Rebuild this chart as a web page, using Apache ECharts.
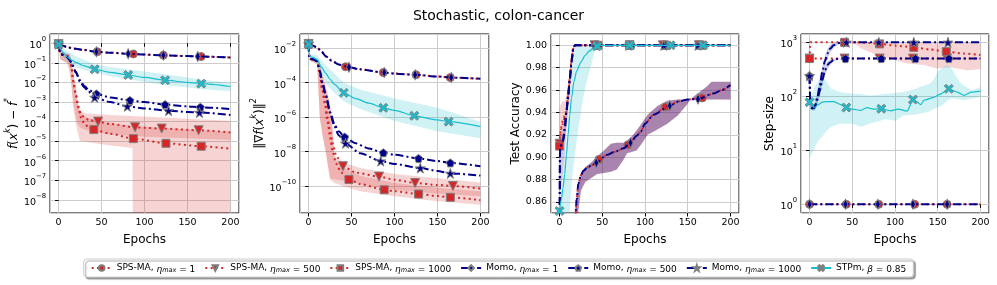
<!DOCTYPE html>
<html><head><meta charset="utf-8">
<script src="https://cdn.jsdelivr.net/npm/echarts@6/dist/echarts.min.js"></script>
<style>html,body{margin:0;padding:0;background:#fff}#c{width:997px;height:285px}</style>
</head><body><div id="c"></div>
<script>
// ---------------- DATA ----------------
const seriesNames = ['SPS-MA, ηmax = 1','SPS-MA, ηmax = 500','SPS-MA, ηmax = 1000','Momo, ηmax = 1','Momo, ηmax = 500','Momo, ηmax = 1000','STPm, β = 0.85'];
const xTicks = [0,50,100,150,200];

// Plot 1: f(x^k) - f*
const p1_sps1_x = [0,5,10,15,20,30,45,60,87,100,122,150,166,200];
const p1_sps1_y = [0.9,0.75,0.65,0.58,0.52,0.45,0.37,0.33,0.285,0.265,0.245,0.222,0.21,0.188];
const p1_sps1_mk = [0,45,87,122,166];
const p1_sps500_x = [0,2,5,10,13,15,17,20,23,26,30,35,46,60,89,120,163,200];
const p1_sps500_y = [0.9,0.3,0.27,0.23,0.17,0.06,0.012,0.0025,0.0006,0.00025,0.00016,0.00012,0.0001,0.000075,0.000051,0.000044,0.000036,0.000028];
const p1_sps500_mk = [0,46,89,120,163];
const p1_sps1000_x = [0,2,5,10,13,15,17,20,23,26,30,35,41,60,87,125,166,200];
const p1_sps1000_y = [0.9,0.3,0.27,0.23,0.17,0.06,0.012,0.0025,0.0005,0.00016,0.00008,0.00005,0.000039,0.000024,0.0000135,0.0000078,0.0000055,0.0000041];
const p1_sps1000_mk = [0,41,87,125,166];
const p1_momo1_x = [0,5,10,15,20,30,44,60,81,100,122,150,162,200];
const p1_momo1_y = [0.9,0.74,0.64,0.57,0.52,0.45,0.37,0.33,0.29,0.265,0.245,0.222,0.213,0.188];
const p1_momo1_mk = [0,44,81,122,162];
const p1_momo500_x = [0,1,3,6,10,13,16,20,25,30,35,44,60,83,100,124,150,165,200];
const p1_momo500_y = [0.9,0.4,0.27,0.25,0.2,0.14,0.08,0.035,0.013,0.0065,0.0042,0.0026,0.0017,0.0012,0.001,0.00074,0.0006,0.00054,0.00044];
const p1_momo500_mk = [0,44,83,124,165];
const p1_momo1000_x = [0,1,3,6,10,13,16,20,25,30,35,42,60,80,100,128,150,164,200];
const p1_momo1000_y = [0.9,0.4,0.27,0.25,0.2,0.14,0.075,0.032,0.011,0.0055,0.0033,0.0017,0.001,0.0006,0.00047,0.00036,0.00031,0.00029,0.00022];
const p1_momo1000_mk = [0,42,80,128,164];
const p1_stp_x = [0,2,5,10,15,20,30,42,60,81,100,124,150,166,200];
const p1_stp_y = [0.9,0.55,0.35,0.2,0.14,0.105,0.07,0.047,0.033,0.024,0.018,0.013,0.0102,0.0087,0.0062];
const p1_stp_mk = [0,42,81,124,166];
const p1_stpBand_x = [0,2,5,10,20,30,42,60,81,100,124,150,166,200];
const p1_stpBand_hi = [0.95,0.8,0.6,0.42,0.22,0.14,0.085,0.062,0.047,0.036,0.026,0.018,0.014,0.0095];
const p1_stpBand_lo = [0.85,0.35,0.2,0.11,0.06,0.042,0.032,0.021,0.0145,0.0105,0.0075,0.0055,0.0046,0.0035];
const p1_s500Band_x = [0,2,5,10,13,15,17,20,22,25,30,40,60,100,150,200];
const p1_s500Band_hi = [0.95,0.5,0.35,0.3,0.28,0.12,0.03,0.0055,0.001,0.00035,0.00026,0.00025,0.00022,0.00018,0.00014,0.00011];
const p1_s500Band_lo = [0.85,0.15,0.13,0.1,0.05,0.01,0.0012,0.0002,0.00008,0.00005,0.00004,0.00003,0.000022,0.000017,0.000014,0.0000115];
const p1_s1000Band_x = [0,2,5,10,13,15,17,20,22,25,30,40,60,86,86.5,100,150,200];
const p1_s1000Band_hi = [0.95,0.5,0.35,0.3,0.28,0.12,0.03,0.005,0.001,0.0003,0.00018,0.00013,0.00008,0.00006,0.00006,0.000055,0.00004,0.000031];
const p1_s1000Band_lo = [0.85,0.15,0.13,0.1,0.03,0.005,0.0005,0.00008,0.00003,0.00001,0.0000095,0.000008,0.000006,0.0000045,1e-12,1e-12,1e-12,1e-12];

// Plot 2: ||grad f(x^k)||^2
const p2_sps1_x = [0,5,10,15,20,27,35,43,60,87,100,125,150,165,200];
const p2_sps1_y = [0.018,0.014,0.011,0.0065,0.0035,0.0019,0.00115,0.00085,0.0006,0.00039,0.00034,0.00029,0.00023,0.0002,0.00017];
const p2_sps1_mk = [0,43,87,125,165];
const p2_sps500_x = [0,1,5,10,13,16,19,22,25,28,32,40,55,82,100,124,150,168,200];
const p2_sps500_y = [0.018,2.5e-3,2.3e-3,1.8e-3,3e-4,4e-5,8e-6,1e-6,1.5e-7,3e-8,6e-9,1.4e-9,6e-10,3.5e-10,2.3e-10,1.5e-10,1.15e-10,1e-10,7e-11];
const p2_sps500_mk = [0,40,82,124,168];
const p2_sps1000_x = [0,1,5,10,13,16,19,22,25,28,32,38,47,60,88,100,128,150,165,200];
const p2_sps1000_y = [0.018,2.5e-3,2.3e-3,1.8e-3,3e-4,4e-5,6e-6,6e-7,7e-8,1e-8,2e-9,6e-10,2.4e-10,1.3e-10,6e-11,5e-11,3.4e-11,2.6e-11,2.2e-11,1.5e-11];
const p2_sps1000_mk = [0,47,88,128,165];
const p2_momo1_x = [0,5,10,15,20,27,35,47,60,88,100,124,150,166,200];
const p2_momo1_y = [0.018,0.014,0.011,0.0065,0.0035,0.0019,0.00115,0.0008,0.0006,0.00039,0.00034,0.00029,0.00023,0.0002,0.00017];
const p2_momo1_mk = [0,47,88,124,166];
const p2_momo500_x = [0,1,5,10,13,16,20,25,30,35,42,55,70,87,100,128,150,165,200];
const p2_momo500_y = [0.018,2.5e-3,2.3e-3,1.8e-3,5e-4,1e-4,2e-5,2e-6,4e-7,1.5e-7,7e-8,3e-8,1.5e-8,8.5e-9,6.5e-9,4e-9,2.8e-9,2.2e-9,1.4e-9];
const p2_momo500_mk = [0,42,87,128,165];
const p2_momo1000_x = [0,1,5,10,13,16,20,25,30,35,43,60,84,100,130,150,165,200];
const p2_momo1000_y = [0.018,2.5e-3,2.3e-3,1.8e-3,5e-4,1e-4,1.8e-5,1.8e-6,3e-7,9e-8,3e-8,8e-9,2.8e-9,1.9e-9,1.1e-9,7.5e-10,5.4e-10,4e-10];
const p2_momo1000_mk = [0,43,84,130,165];
const p2_stp_x = [0,1,5,10,15,20,25,30,41,55,70,87,100,123,150,163,200];
const p2_stp_y = [0.018,0.0035,0.003,0.0022,0.0008,0.00035,0.00016,0.00008,0.000026,0.000012,0.0000065,0.0000035,0.0000025,0.0000012,0.0000007,0.00000055,0.00000028];
const p2_stp_mk = [0,41,87,123,163];
const p2_stpBand_x = [0,1,10,15,20,30,41,60,100,150,200];
const p2_stpBand_hi = [0.019,0.005,0.004,0.002,0.001,0.00035,0.0001,0.00004,0.000012,0.0000035,0.00000055];
const p2_stpBand_lo = [0.017,0.002,0.0015,0.0003,0.00009,0.000025,0.000008,0.000003,0.0000006,0.00000015,0.00000006];
const p2_s500Band_x = [0,1,10,13,16,20,25,28,30,40,60,100,150,200];
const p2_s500Band_hi = [0.019,3e-3,2.5e-3,1.5e-3,3e-4,6e-5,6e-6,2e-7,6e-9,2.5e-9,1.1e-9,5e-10,2.8e-10,1.6e-10];
const p2_s500Band_lo = [0.017,2e-3,1.2e-3,1e-6,1e-7,1e-8,3e-10,2.5e-10,2.5e-10,2e-10,1.3e-10,6e-11,3.5e-11,2.5e-11];
const p2_s1000Band_x = [0,1,10,13,16,20,25,28,30,40,60,100,150,200];
const p2_s1000Band_hi = [0.019,3e-3,2.5e-3,1.5e-3,3e-4,5e-5,4e-6,1.5e-7,4e-9,1.2e-9,4e-10,1.5e-10,8e-11,5e-11];
const p2_s1000Band_lo = [0.017,2e-3,1.2e-3,1e-6,1e-7,8e-9,2.2e-10,1.8e-10,1.5e-10,1e-10,5e-11,2.5e-11,1.3e-11,8e-12];

// Plot 3: Test accuracy
const p3_sps1_x = [0,10,18,20,22,25,28,33,38,46,55,65,75,80,90,95,100,110,124,140,150,167,180,190,200];
const p3_sps1_y = [0.6,0.72,0.84,0.862,0.876,0.884,0.888,0.891,0.893,0.898,0.902,0.905,0.908,0.911,0.919,0.9227,0.93,0.938,0.945,0.95,0.9516,0.953,0.957,0.96,0.9645];
const p3_sps1_mk = [0,46,80,124,167];
const p3_momo1_x = [0,10,18,20,22,25,28,33,38,43,55,65,75,83,90,95,100,110,129,140,150,162,180,190,200];
const p3_momo1_y = [0.6,0.72,0.84,0.862,0.876,0.884,0.888,0.891,0.893,0.895,0.902,0.905,0.908,0.913,0.919,0.9227,0.93,0.938,0.946,0.95,0.9516,0.952,0.957,0.96,0.9645];
const p3_momo1_mk = [0,43,83,129,162];
const p3_slowBand_x = [15,20,25,30,38,44,52,60,67,75,79,85,90,95,103,115,126,138,149,153,158,165,172,178,200];
const p3_slowBand_hi = [0.82,0.862,0.885,0.891,0.896,0.901,0.906,0.912,0.913,0.913,0.915,0.919,0.924,0.929,0.938,0.946,0.9505,0.9516,0.9516,0.9516,0.955,0.959,0.963,0.9675,0.9675];
const p3_slowBand_lo = [0.78,0.84,0.87,0.878,0.882,0.885,0.886,0.887,0.889,0.898,0.9035,0.905,0.906,0.911,0.92,0.925,0.93,0.937,0.947,0.9516,0.9516,0.9516,0.9516,0.9516,0.9516];
const p3_sps500_x = [0,1,2,4,6,8,10,12,14,16,18,20,30,41,82,121,163,200];
const p3_sps500_y = [0.912,0.922,0.927,0.933,0.937,0.941,0.955,0.971,0.988,0.997,1,1,1,1,1,1,1,1];
const p3_sps500_mk = [0,41,82,121,163];
const p3_sps1000_x = [0,1,2,4,6,8,10,12,14,16,18,20,30,45,82,125,167,200];
const p3_sps1000_y = [0.91,0.92,0.925,0.93,0.935,0.94,0.952,0.968,0.986,0.996,1,1,1,1,1,1,1,1];
const p3_sps1000_mk = [0,45,82,125,167];
const p3_momo500_x = [0,0.5,1,2,4,6,8,10,12,14,16,18,20,30,42,84,124,163,200];
const p3_momo500_y = [0.8,0.905,0.909,0.911,0.914,0.925,0.94,0.955,0.97,0.985,0.997,1,1,1,1,1,1,1,1];
const p3_momo500_mk = [0,42,84,124,163];
const p3_momo1000_x = [0,0.5,1,2,4,6,8,10,12,14,16,18,20,30,43,81,122,162,200];
const p3_momo1000_y = [0.8,0.905,0.909,0.911,0.914,0.925,0.94,0.955,0.97,0.985,0.997,1,1,1,1,1,1,1,1];
const p3_momo1000_mk = [0,43,81,122,162];
const p3_stp_x = [0,2,4,6,8,10,12,14,17,20,25,30,35,40,44,50,82,130,168,200];
const p3_stp_y = [0.852,0.862,0.872,0.885,0.902,0.92,0.938,0.953,0.968,0.977,0.985,0.991,0.995,0.998,0.9993,1,1,1,1,1];
const p3_stp_mk = [0,44,82,130,168];
const p3_stpBand_x = [0,3,6,8,10,12,14,16,20,24,28,32,36,41,45,200];
const p3_stpBand_hi = [0.861,0.878,0.897,0.915,0.935,0.965,0.985,0.995,1,1,1,1,1,1,1,1];
const p3_stpBand_lo = [0.78,0.8,0.82,0.83,0.84,0.85,0.876,0.89,0.915,0.935,0.955,0.968,0.98,0.994,1,1];
const p3_spsFastBand_x = [0,2,4,6,8,10,12,14,16,18,200];
const p3_spsFastBand_hi = [0.945,0.948,0.95,0.95,0.955,0.965,0.98,0.993,0.999,1,1];
const p3_spsFastBand_lo = [0.9,0.905,0.91,0.915,0.925,0.94,0.96,0.98,0.995,1,1];
const p3_momoFastBand_x = [0,1,2,4,6,8,10,12,14,16,18,200];
const p3_momoFastBand_hi = [0.915,0.918,0.92,0.925,0.932,0.945,0.96,0.975,0.99,0.998,1,1];
const p3_momoFastBand_lo = [0.86,0.87,0.875,0.885,0.9,0.925,0.945,0.962,0.98,0.995,1,1];

// Plot 4: Step-size
const p4_sps1_x = [0,43,81,123,161,200];
const p4_sps1_y = [1,1,1,1,1,1];
const p4_sps1_mk = [0,43,81,123,161];
const p4_sps500_x = [0,41,82,121,161,200];
const p4_sps500_y = [500,500,500,500,500,500];
const p4_sps500_mk = [0,41,82,121,161];
const p4_sps1000_x = [0,1,5,20,41,55,70,82,100,122,140,160,180,200];
const p4_sps1000_y = [500,1000,1000,1000,1000,1000,970,935,870,808,740,671,620,582];
const p4_sps1000_mk = [0,41,82,122,160];
const p4_s1000Band_x = [0,1,45,55,60,70,80,90,100,114,134,149,165,184,200];
const p4_s1000Band_hi = [500,1000,1000,1000,1000,1000,1000,1000,1000,1000,1000,1000,1000,1000,1000];
const p4_s1000Band_lo = [500,1000,1000,900,776,660,580,520,468,406,380,328,345,303,316];
const p4_momo1_x = [0,42,80,121,161,200];
const p4_momo1_y = [1,1,1,1,1,1];
const p4_momo1_mk = [0,42,80,121,161];
const p4_momo500_x = [0,1,3,6,9,12,15,18,21,24,28,32,36,42,84,124,163,200];
const p4_momo500_y = [240,66,60,62,85,126,200,300,380,425,470,490,498,500,500,500,500,500];
const p4_momo500_mk = [0,42,84,124,163];
const p4_momo1000_x = [0,1,3,6,9,12,15,18,21,24,28,33,38,43,81,122,162,200];
const p4_momo1000_y = [240,66,60,62,95,160,290,450,620,760,880,960,995,1000,1000,1000,1000,1000];
const p4_momo1000_mk = [0,43,81,122,162];
const p4_m500Band_x = [1,3,6,9,12,15,18,21,24,28,32,36,42];
const p4_m500Band_hi = [70,66,72,100,155,250,360,440,470,495,500,500,500];
const p4_m500Band_lo = [58,55,55,70,100,160,240,320,380,440,475,495,500];
const p4_m1000Band_x = [1,3,6,9,12,15,18,21,24,28,33,38,43];
const p4_m1000Band_hi = [70,66,72,115,200,360,560,760,900,980,1000,1000,1000];
const p4_m1000Band_lo = [58,55,55,75,125,230,360,500,640,780,900,980,1000];
const p4_stp_x = [0,3,6,10,15,20,28,35,43,50,60,67,75,84,95,104,114,121,126,130,134,145,153,163,173,181,189,200];
const p4_stp_y = [78,66,62,70,78,80,80,72,62,58,55,62,58,59,54,58,53,87,78,70,85,95,110,138,120,104,120,125];
const p4_stp_mk = [0,43,84,121,163];
const p4_stpBand_x = [0,6,10,15,20,25,35,50,60,70,90,100,110,125,130,140,145,150,155,160,165,175,180,190,200];
const p4_stpBand_hi = [78,149,190,229,190,140,120,112,110,104,112,115,120,140,150,170,200,290,330,380,352,190,160,129,149];
const p4_stpBand_lo = [7,11,15,18,23,27,31,31,27,31,38,35,44,46,48,52,59,62,68,80,91,88,85,90,97];

// ---------------- STYLE / BUILD ----------------
const FONT = 'DejaVu Sans';
const RED = '#d62728', NAVY = '#00008b', CYAN = '#17becf';
const RED_F = 'rgba(214,39,40,0.2)', NAVY_F = 'rgba(0,0,139,0.2)', CYAN_F = 'rgba(23,190,207,0.2)';
const RED_F2 = 'rgba(214,39,40,0.3)', NAVY_F2 = 'rgba(0,0,139,0.3)';
const PENT = 'path://M0,-1 L0.951,-0.309 L0.588,0.809 L-0.588,0.809 L-0.951,-0.309 Z';
const STAR = 'path://M0,-1 L0.225,-0.309 L0.951,-0.309 L0.363,0.118 L0.588,0.809 L0,0.382 L-0.588,0.809 L-0.363,0.118 L-0.951,-0.309 L-0.225,-0.309 Z';
const XSYM = 'path://M-1,-0.6 L-0.6,-1 L0,-0.4 L0.6,-1 L1,-0.6 L0.4,0 L1,0.6 L0.6,1 L0,0.4 L-0.6,1 L-1,0.6 L-0.4,0 Z';
const TRI_D = 'path://M-1,-0.85 L1,-0.85 L0,0.9 Z';
const DOT = [2, 3.3], DASHDOT = [8, 3, 2, 3];
const STY = [
  {color:RED, symbol:'circle', size:8, dash:DOT, width:2, z:2},
  {color:RED, symbol:TRI_D, size:9, dash:DOT, width:2, z:2},
  {color:RED, symbol:'rect', size:8, dash:DOT, width:2, z:2},
  {color:NAVY, symbol:'diamond', size:[5,10], dash:DASHDOT, width:2, z:3},
  {color:NAVY, symbol:PENT, size:8, dash:DASHDOT, width:2, z:3},
  {color:NAVY, symbol:STAR, size:10, dash:DASHDOT, width:2, z:3},
  {color:CYAN, symbol:XSYM, size:9, dash:'solid', width:1.2, z:4}
];
const tf = (log, v) => log ? Math.log10(v) : v;

function mkLine(gi, log, k, xs, ys, mk) {
  const st = STY[k];
  const data = xs.map((x, i) => {
    const d = {value: [x, tf(log, ys[i])]};
    if (!mk.includes(x)) d.symbol = 'none';
    return d;
  });
  return {type:'line', name: seriesNames[k], xAxisIndex:gi, yAxisIndex:gi, data,
    symbol: st.symbol, symbolSize: st.size, showSymbol:true, showAllSymbol:true,
    smooth:0.25, smoothMonotone:'x', clip:true, z: st.z, animation:false, silent:true,
    lineStyle:{color:st.color, width:st.width, type:st.dash},
    itemStyle:{color:st.color, borderColor:'#7f7f7f', borderWidth:1}};
}
function mkBand(gi, log, xs, lo, hi, fill) {
  return {type:'custom', xAxisIndex:gi, yAxisIndex:gi, silent:true, z:1, animation:false, clip:true,
    data:[[xs[0], tf(log, hi[0])]],
    renderItem: (params, api) => {
      const pts = [];
      for (let i = 0; i < xs.length; i++) pts.push(api.coord([xs[i], tf(log, hi[i])]));
      for (let i = xs.length - 1; i >= 0; i--) pts.push(api.coord([xs[i], tf(log, lo[i])]));
      const cs = params.coordSys;
      return {type:'polygon', shape:{points:pts}, style:{fill:fill},
        clipPath:{type:'rect', shape:{x:cs.x, y:cs.y, width:cs.width, height:cs.height}}};
    }};
}

const series = [
  // plot 1
  mkBand(0,true,p1_s500Band_x,p1_s500Band_lo,p1_s500Band_hi,RED_F),
  mkBand(0,true,p1_s1000Band_x,p1_s1000Band_lo,p1_s1000Band_hi,RED_F),
  mkBand(0,true,p1_stpBand_x,p1_stpBand_lo,p1_stpBand_hi,CYAN_F),
  mkLine(0,true,0,p1_sps1_x,p1_sps1_y,p1_sps1_mk),
  mkLine(0,true,1,p1_sps500_x,p1_sps500_y,p1_sps500_mk),
  mkLine(0,true,2,p1_sps1000_x,p1_sps1000_y,p1_sps1000_mk),
  mkLine(0,true,3,p1_momo1_x,p1_momo1_y,p1_momo1_mk),
  mkLine(0,true,4,p1_momo500_x,p1_momo500_y,p1_momo500_mk),
  mkLine(0,true,5,p1_momo1000_x,p1_momo1000_y,p1_momo1000_mk),
  mkLine(0,true,6,p1_stp_x,p1_stp_y,p1_stp_mk),
  // plot 2
  mkBand(1,true,p2_s500Band_x,p2_s500Band_lo,p2_s500Band_hi,RED_F),
  mkBand(1,true,p2_s1000Band_x,p2_s1000Band_lo,p2_s1000Band_hi,RED_F),
  mkBand(1,true,p2_stpBand_x,p2_stpBand_lo,p2_stpBand_hi,CYAN_F),
  mkLine(1,true,0,p2_sps1_x,p2_sps1_y,p2_sps1_mk),
  mkLine(1,true,1,p2_sps500_x,p2_sps500_y,p2_sps500_mk),
  mkLine(1,true,2,p2_sps1000_x,p2_sps1000_y,p2_sps1000_mk),
  mkLine(1,true,3,p2_momo1_x,p2_momo1_y,p2_momo1_mk),
  mkLine(1,true,4,p2_momo500_x,p2_momo500_y,p2_momo500_mk),
  mkLine(1,true,5,p2_momo1000_x,p2_momo1000_y,p2_momo1000_mk),
  mkLine(1,true,6,p2_stp_x,p2_stp_y,p2_stp_mk),
  // plot 3
  mkBand(2,false,p3_slowBand_x,p3_slowBand_lo,p3_slowBand_hi,RED_F2),
  mkBand(2,false,p3_slowBand_x,p3_slowBand_lo,p3_slowBand_hi,NAVY_F2),
  mkBand(2,false,p3_spsFastBand_x,p3_spsFastBand_lo,p3_spsFastBand_hi,RED_F),
  mkBand(2,false,p3_momoFastBand_x,p3_momoFastBand_lo,p3_momoFastBand_hi,NAVY_F),
  mkBand(2,false,p3_stpBand_x,p3_stpBand_lo,p3_stpBand_hi,CYAN_F),
  mkLine(2,false,0,p3_sps1_x,p3_sps1_y,p3_sps1_mk),
  mkLine(2,false,1,p3_sps500_x,p3_sps500_y,p3_sps500_mk),
  mkLine(2,false,2,p3_sps1000_x,p3_sps1000_y,p3_sps1000_mk),
  mkLine(2,false,3,p3_momo1_x,p3_momo1_y,p3_momo1_mk),
  mkLine(2,false,4,p3_momo500_x,p3_momo500_y,p3_momo500_mk),
  mkLine(2,false,5,p3_momo1000_x,p3_momo1000_y,p3_momo1000_mk),
  mkLine(2,false,6,p3_stp_x,p3_stp_y,p3_stp_mk),
  // plot 4
  mkBand(3,true,p4_s1000Band_x,p4_s1000Band_lo,p4_s1000Band_hi,RED_F),
  mkBand(3,true,p4_m500Band_x,p4_m500Band_lo,p4_m500Band_hi,NAVY_F),
  mkBand(3,true,p4_m1000Band_x,p4_m1000Band_lo,p4_m1000Band_hi,NAVY_F),
  mkBand(3,true,p4_stpBand_x,p4_stpBand_lo,p4_stpBand_hi,CYAN_F),
  mkLine(3,true,0,p4_sps1_x,p4_sps1_y,p4_sps1_mk),
  mkLine(3,true,1,p4_sps500_x,p4_sps500_y,p4_sps500_mk),
  mkLine(3,true,2,p4_sps1000_x,p4_sps1000_y,p4_sps1000_mk),
  mkLine(3,true,3,p4_momo1_x,p4_momo1_y,p4_momo1_mk),
  mkLine(3,true,4,p4_momo500_x,p4_momo500_y,p4_momo500_mk),
  mkLine(3,true,5,p4_momo1000_x,p4_momo1000_y,p4_momo1000_mk),
  mkLine(3,true,6,p4_stp_x,p4_stp_y,p4_stp_mk)
];

const gridPos = [[50,189],[300,189],[551,188],[801,188]];
const grids = gridPos.map(g => ({left:g[0], top:34, width:g[1], height:179, show:true, borderColor:'#000', borderWidth:1, backgroundColor:'transparent'}));

const xAxes = gridPos.map((g, i) => ({type:'value', gridIndex:i, min:-10, max:210, minInterval:50, maxInterval:50,
  axisLine:{show:false}, axisTick:{show:true, length:3.5, lineStyle:{color:'#000'}},
  splitLine:{show:true, lineStyle:{color:'#cccccc', width:1}},
  axisLabel:{showMinLabel:false, showMaxLabel:false, color:'#000', fontSize:9.5, fontFamily:FONT, margin:5,
    formatter: v => xTicks.includes(v) ? String(v) : ''},
  name:'Epochs', nameLocation:'middle', nameGap:21, nameTextStyle:{fontSize:12, fontFamily:FONT, color:'#000'}}));

const supRich = {
  b:{fontSize:9.5, fontFamily:FONT, color:'#000', lineHeight:15, verticalAlign:'bottom'},
  s:{fontSize:6.8, fontFamily:FONT, color:'#000', lineHeight:9, verticalAlign:'top'}
};
const logFmt = v => { const e = Math.round(v); if (Math.abs(v - e) > 1e-6) return ''; return '{b|10}{s|' + (e < 0 ? '\u2212' + (-e) : e) + '}'; };
const nameRich = {
  i:{fontSize:12, fontFamily:FONT, fontStyle:'italic', color:'#000', lineHeight:16, verticalAlign:'bottom'},
  n:{fontSize:12, fontFamily:FONT, color:'#000', lineHeight:16, verticalAlign:'bottom'},
  p:{fontSize:8, fontFamily:FONT, fontStyle:'italic', color:'#000', lineHeight:10, verticalAlign:'top'}
};
const yDefs = [
  {min:-8.67, max:0.475, step:1, fmt:logFmt, name:'{i|f}{n|(}{i|x}{p|k}{n|) \u2212 }{i|f}{p|*}', gap:21},
  {min:-11.57, max:-1.167, step:2, fmt:logFmt, name:'{n|\u2016\u2207}{i|f}{n|(}{i|x}{p|k}{n|)\u2016}{p|2}', gap:24},
  {min:0.8502, max:1.0101, step:0.02, fmt:v => v.toFixed(2), name:'{n|Test Accuracy}', gap:28},
  {min:-0.16, max:3.154, step:1, fmt:logFmt, name:'{n|Step-size}', gap:25}
];
const yAxes = yDefs.map((d, i) => ({type:'value', gridIndex:i, min:d.min, max:d.max, minInterval:d.step, maxInterval:d.step,
  axisLine:{show:false}, axisTick:{show:true, length:3.5, lineStyle:{color:'#000'}},
  splitLine:{show:true, lineStyle:{color:'#cccccc', width:1}},
  axisLabel:{showMinLabel:false, showMaxLabel:false, color:'#000', fontSize:9.5, fontFamily:FONT, margin:4, formatter:d.fmt, rich:supRich},
  name:d.name, nameLocation:'middle', nameGap:d.gap, nameRotate:90,
  nameTextStyle:{fontSize:12, fontFamily:FONT, color:'#000', rich:nameRich}}));

const legendText = {};
legendText[seriesNames[0]] = 'SPS-MA, {i|η}{sub|max}{n| = 1}';
legendText[seriesNames[1]] = 'SPS-MA, {i|η}{sub|max}{n| = 500}';
legendText[seriesNames[2]] = 'SPS-MA, {i|η}{sub|max}{n| = 1000}';
legendText[seriesNames[3]] = 'Momo, {i|η}{sub|max}{n| = 1}';
legendText[seriesNames[4]] = 'Momo, {i|η}{sub|max}{n| = 500}';
legendText[seriesNames[5]] = 'Momo, {i|η}{sub|max}{n| = 1000}';
legendText[seriesNames[6]] = 'STPm, {i|β}{n| = 0.85}';

const option = {
  animation:false,
  backgroundColor:'#ffffff',
  title:{text:'Stochastic, colon-cancer', left:'center', top:4, textStyle:{fontSize:14, fontWeight:'normal', fontFamily:FONT, color:'#000'}},
  legend:{data:seriesNames, left:'center', top:259, orient:'horizontal', itemWidth:20, itemHeight:7, itemGap:9,
    padding:[3,7], borderColor:'#cccccc', borderWidth:1, borderRadius:3, backgroundColor:'#fff',
    shadowColor:'rgba(0,0,0,0.35)', shadowBlur:1, shadowOffsetX:2, shadowOffsetY:2, selectedMode:false,
    formatter: n => legendText[n],
    textStyle:{fontSize:9, fontFamily:FONT, color:'#000', lineHeight:12,
      rich:{i:{fontSize:9, fontStyle:'italic', fontFamily:FONT, color:'#000', lineHeight:12, verticalAlign:'bottom'},
            n:{fontSize:9, fontFamily:FONT, color:'#000', lineHeight:12, verticalAlign:'bottom'},
            sub:{fontSize:6.5, fontStyle:'italic', fontFamily:FONT, color:'#000', lineHeight:8, verticalAlign:'bottom'}}}},
  grid:grids, xAxis:xAxes, yAxis:yAxes, series:series
};
const chart = echarts.init(document.getElementById('c'), null, {renderer:'canvas'});
chart.setOption(option);
</script></body></html>
